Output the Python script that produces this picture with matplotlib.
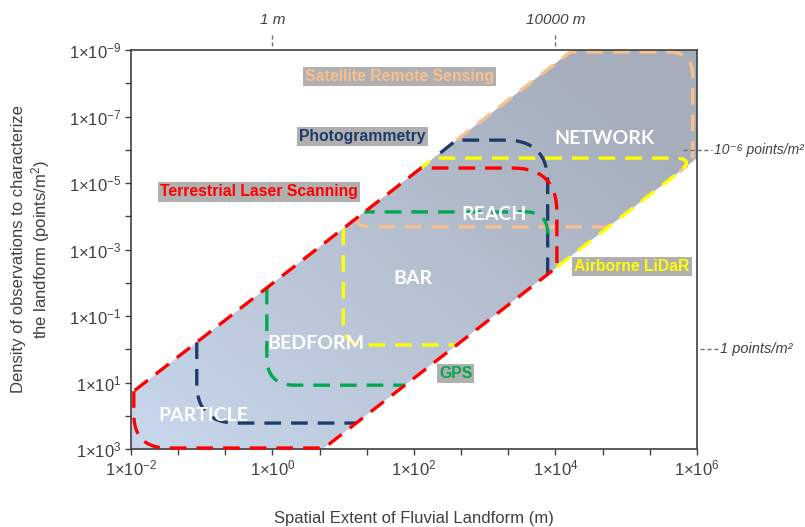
import numpy as np
import matplotlib.pyplot as plt
from matplotlib.patches import Polygon
from matplotlib.ticker import FixedLocator, FuncFormatter, NullLocator
from matplotlib.colors import to_rgb

plt.rcParams["font.family"] = ["Liberation Sans", "DejaVu Sans"]
plt.rcParams["mathtext.fontset"] = "custom"
plt.rcParams["mathtext.rm"] = "Liberation Sans"
plt.rcParams["mathtext.it"] = "Liberation Sans:italic"
plt.rcParams["mathtext.bf"] = "Liberation Sans:bold"

# Outlines of each domain, as log10 exponents
# x: spatial extent (m), y: density of observations (points/m2)
ENV_X = [-2.0, -2.0, 4.24, 6.0, 6.0, 0.71]
ENV_Y = [3.0, 1.33, -9.0, -9.0, -5.75, 3.0]

SAT_X = [1.03, 2.60, 4.21, 5.94, 5.94, 5.75, 4.75]
SAT_Y = [-3.68, -6.29, -8.94, -8.94, -5.65, -5.34, -3.68]

PHOTO_X = [-1.07, -1.07, 1.18, 3.89, 3.89, 2.60, 2.28]
PHOTO_Y = [-0.21, 2.22, 2.22, -2.26, -6.29, -6.29, -5.75]

LIDAR_X = [1.00, 1.00, 2.60, 4.02, 6.00, 2.28, 2.10]
LIDAR_Y = [-3.63, -0.13, -0.13, -2.47, -5.75, -5.75, -5.45]

GPS_X = [-0.08, -0.08, 1.88, 3.89, 3.89, 1.30]
GPS_Y = [-1.85, 1.08, 1.08, -2.26, -4.13, -4.13]

TLS_X = [-1.96, -1.96, 0.73, 4.02, 4.02, 2.10]
TLS_Y = [1.26, 2.97, 2.97, -2.47, -5.45, -5.45]

SCALES = ["PARTICLE", "BEDFORM", "BAR", "REACH", "NETWORK"]
SCALE_X = [-0.98, 0.62, 1.99, 3.13, 4.69]
SCALE_Y = [1.98, -0.16, -2.14, -4.04, -6.35]

TECHS = [
    "Satellite Remote Sensing",
    "Photogrammetry",
    "Terrestrial Laser Scanning",
    "Airborne LiDaR",
    "GPS",
]
TECH_X = [1.79, 1.27, -0.19, 5.08, 2.59]
TECH_Y = [-8.19, -6.41, -4.73, -2.50, 0.74]
TECH_COLORS = ["#f9bf8f", "#1f3b6b", "#ff0000", "#ffff00", "#00a84f"]

# px per decade, used to round corners in screen-like space
PX_X = 70.75
PX_Y = 33.25


def _rounded(xs, ys, corners, hidden=()):
    """
    Closed outline with rounded corners; edges in `hidden` are not drawn
    """
    u = np.array(xs) * PX_X
    v = np.array(ys) * PX_Y
    n = len(u)
    corner_pts = []
    for i in range(n):
        p = np.array([u[i], v[i]])
        r = corners.get(i)
        if not r:
            corner_pts.append(p[None, :])
            continue
        a = np.array([u[i - 1], v[i - 1]])
        b = np.array([u[(i + 1) % n], v[(i + 1) % n]])
        p0 = p + r * (a - p) / np.linalg.norm(a - p)
        p2 = p + r * (b - p) / np.linalg.norm(b - p)
        t = np.linspace(0, 1, 16)[:, None]
        corner_pts.append((1 - t) ** 2 * p0 + 2 * (1 - t) * t * p + t ** 2 * p2)

    start = (max(hidden) + 1) % n if hidden else 0
    pts = []
    for k in range(n):
        i = (start + k) % n
        pts.extend(corner_pts[i])
        if i in hidden:
            pts.append(np.array([np.nan, np.nan]))
    if not hidden:
        pts.append(corner_pts[start][0])
    pts = np.array(pts)
    return 10 ** (pts[:, 0] / PX_X), 10 ** (pts[:, 1] / PX_Y)


fig = plt.figure(figsize=(8.05, 5.27), dpi=100)
ax = fig.add_axes([0.1627, 0.148, 0.7031, 0.7571])
ax.set_xscale("log")
ax.set_yscale("log")
ax.set_xlim(1e-2, 1e6)
ax.set_ylim(1e3, 1e-9)

# Gradient background clipped to the envelope
env = Polygon(
    np.column_stack([10 ** np.array(ENV_X), 10 ** np.array(ENV_Y)]),
    closed=True, facecolor="none", edgecolor="none",
)
ax.add_patch(env)
gx, gy = np.meshgrid(np.linspace(0, 1, 200), np.linspace(0, 1, 200))
t = np.clip(0.6 * gx + 0.55 * gy, 0, 1)
c0 = np.array(to_rgb("#c8d7ec"))
c1 = np.array(to_rgb("#a6aebb"))
img = c0[None, None, :] * (1 - t[..., None]) + c1[None, None, :] * t[..., None]
im = ax.imshow(img, extent=(0, 1, 0, 1), transform=ax.transAxes,
               origin="lower", aspect="auto", zorder=0)
im.set_clip_path(env)

# Dashed domains (drawing order matters for overlaps)
shapes = [
    (SAT_X, SAT_Y, {0: 28, 3: 24}, {0, 5}, TECH_COLORS[0]),
    (PHOTO_X, PHOTO_Y, {1: 40, 4: 42}, {2, 6}, TECH_COLORS[1]),
    (GPS_X, GPS_Y, {1: 28, 4: 22}, {2, 3, 5}, TECH_COLORS[4]),
    (LIDAR_X, LIDAR_Y, {1: 22, 4: 24}, {2, 6}, TECH_COLORS[3]),
    (TLS_X, TLS_Y, {1: 34, 4: 44}, (), TECH_COLORS[2]),
]
for z, (xs, ys, corners, hidden, col) in enumerate(shapes):
    px, py = _rounded(xs, ys, corners, hidden)
    ax.plot(px, py, color=col, lw=2.4, dashes=(5, 3),
            dash_capstyle="butt", zorder=2 + z, clip_on=False)

for name, x, y in zip(SCALES, SCALE_X, SCALE_Y):
    ax.text(10 ** x, 10 ** y, name, color="white", fontsize=14,
            fontweight="bold", family="Lato", ha="center", va="center",
            zorder=10)

for name, x, y, col in zip(TECHS, TECH_X, TECH_Y, TECH_COLORS):
    ax.text(10 ** x, 10 ** y, name, color=col, fontsize=11.3,
            fontweight="bold", ha="center", va="center", zorder=11,
            bbox=dict(facecolor="#b0b0b0", edgecolor="none", pad=1.5))

# Ticks
xt = [10 ** (-2 + 2 * k / 3) for k in range(13)]
ax.xaxis.set_major_locator(FixedLocator(xt))
ax.xaxis.set_minor_locator(NullLocator())


def _xfmt(v, pos):
    e = np.log10(v)
    if abs(e - round(e)) < 1e-6 and round(e) % 2 == 0:
        return r"$1{\times}10^{%d}$" % round(e)
    return ""


ax.xaxis.set_major_formatter(FuncFormatter(_xfmt))

yt = [10.0 ** e for e in range(-9, 4)]
ax.yaxis.set_major_locator(FixedLocator(yt))
ax.yaxis.set_minor_locator(NullLocator())


def _yfmt(v, pos):
    e = int(round(np.log10(v)))
    if e % 2 != 0:
        return r"$1{\times}10^{%d}$" % e
    return ""


ax.yaxis.set_major_formatter(FuncFormatter(_yfmt))
ax.tick_params(direction="out", length=4, width=1, colors="#404040",
               labelsize=12, pad=3)
for sp in ax.spines.values():
    sp.set_color("#404040")
    sp.set_linewidth(1.2)

ax.set_xlabel("Spatial Extent of Fluvial Landform (m)", fontsize=12,
              color="#404040", labelpad=23)
ax.set_ylabel("Density of observations to characterize\n"
              "the landform (points/m$^2$)", fontsize=12,
              color="#404040", labelpad=12)

# Reference marks outside the frame
top = ax.get_xaxis_transform()
for xv, lab in [(1.0, "1 m"), (1e4, "10000 m")]:
    ax.plot([xv, xv], [1.010, 1.043], transform=top, color="#707070",
            lw=1, dashes=(3, 2), clip_on=False)
    ax.text(xv, 1.075, lab, transform=top, fontsize=11, style="italic",
            color="#404040", ha="center", va="center")

right = ax.get_yaxis_transform()
ax.plot([0.975, 1.027], [1e-6, 1e-6], transform=right, color="#707070",
        lw=1, dashes=(3, 2), clip_on=False, zorder=12)
ax.text(1.030, 1e-6, "10\u207b\u2076 points/m\u00b2", transform=right,
        fontsize=10, style="italic", color="#404040", ha="left",
        va="center")
ax.plot([1.005, 1.037], [1.0, 1.0], transform=right, color="#707070",
        lw=1, dashes=(3, 2), clip_on=False)
ax.text(1.041, 1.0, "1 points/m\u00b2", transform=right, fontsize=10.5,
        style="italic", color="#404040", ha="left", va="center")

fig.savefig("out.png", dpi=100)
